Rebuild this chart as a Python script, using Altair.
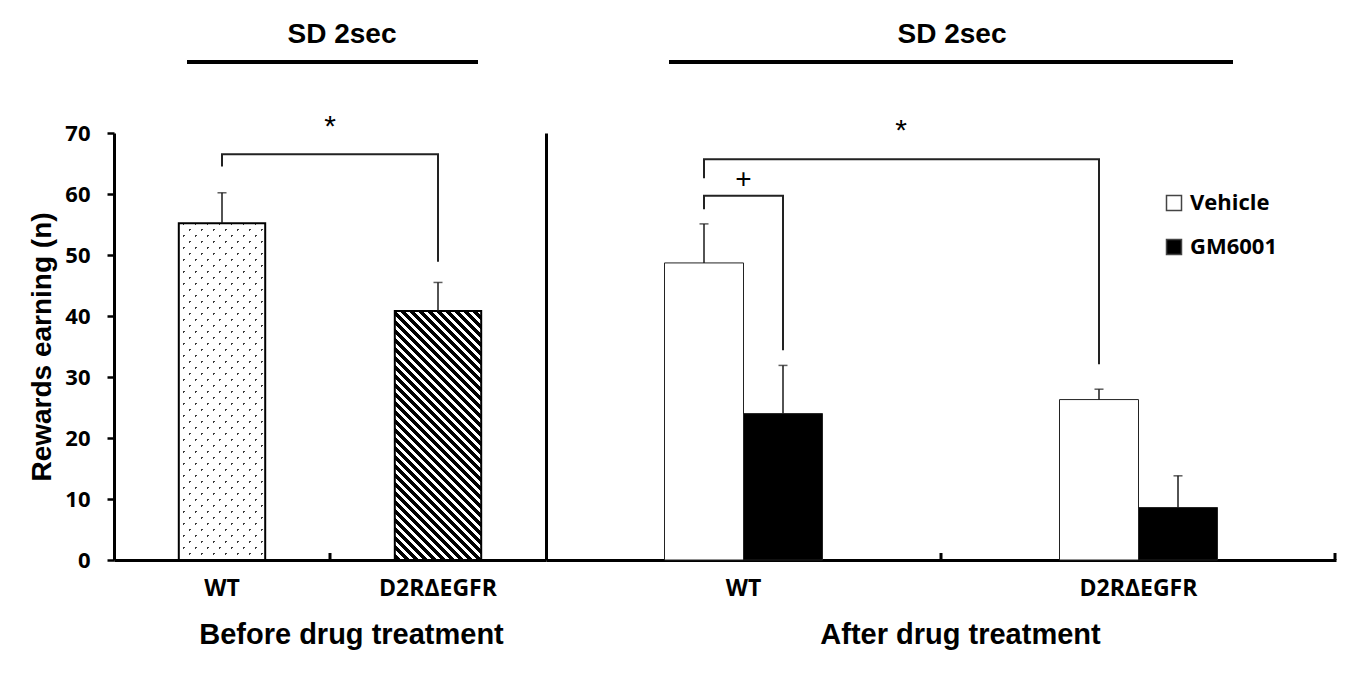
import altair as alt
import pandas as pd

# ---------------- data ----------------
genotype_order = ["WT", "D2RΔEGFR"]
treatment_order = ["Vehicle", "GM6001"]

before_genotypes = ["WT", "D2RΔEGFR"]
before_means = [55.2, 40.8]
before_sem = [5.0, 4.7]

after_genotypes = ["WT", "WT", "D2RΔEGFR", "D2RΔEGFR"]
after_treatments = ["Vehicle", "GM6001", "Vehicle", "GM6001"]
after_means = [48.7, 24.0, 26.3, 8.6]
after_sem = [6.4, 7.9, 1.7, 5.2]

y_ticks = [0, 10, 20, 30, 40, 50, 60, 70]
y_title = "Rewards earning (n)"
panel_headers = ["SD 2sec", "SD 2sec"]
panel_titles = ["Before drug treatment", "After drug treatment"]

# significance brackets (polyline vertices)
before_bracket_genotype = ["WT", "WT", "D2RΔEGFR", "D2RΔEGFR"]
before_bracket_y = [64.5, 66.5, 66.5, 48.9]

after_bracket_id = ["a", "a", "a", "a", "b", "b", "b", "b"]
after_bracket_genotype = ["WT", "WT", "D2RΔEGFR", "D2RΔEGFR", "WT", "WT", "WT", "WT"]
after_bracket_treatment = ["Vehicle", "Vehicle", "Vehicle", "Vehicle",
                           "Vehicle", "Vehicle", "GM6001", "GM6001"]
after_bracket_y = [62.6, 65.7, 65.7, 32.1, 57.5, 59.7, 59.7, 34.4]

sig_labels = ["*", "*", "+"]
sig_y = [71.0, 70.4, 62.3]

# ---------------- layout ----------------
PLOT_H = 427
W_L = 432
W_R = 790
Y_MAX = 70
PAD_IN = 0.6
PAD_OUT = 0.3

step_L = W_L / (2 - PAD_IN + 2 * PAD_OUT)
bw_L = step_L * (1 - PAD_IN)


def stripe_gradient(w, h, direction, period, line_w, line_color, bg_color, phase=0.0):
    s = w + h
    n2 = w * w + h * h
    if direction == "down":   # lines like "\"
        x1, y1 = 0.0, 1.0
        x2, y2 = w * s / n2, 1.0 - h * s / n2
    else:                     # lines like "/"
        x1, y1 = 0.0, 0.0
        x2, y2 = w * s / n2, h * s / n2
    stops = [{"offset": 0.0, "color": bg_color}]
    u = phase
    while u < s:
        a = u / s
        b = min((u + line_w) / s, 1.0)
        stops += [
            {"offset": a, "color": bg_color},
            {"offset": a, "color": line_color},
            {"offset": b, "color": line_color},
            {"offset": b, "color": bg_color},
        ]
        u += period
    stops.append({"offset": 1.0, "color": bg_color})
    return {"gradient": "linear", "x1": x1, "y1": y1, "x2": x2, "y2": y2, "stops": stops}


h_wt = before_means[0] / Y_MAX * PLOT_H
h_d2 = before_means[1] / Y_MAX * PLOT_H
dots_lines = stripe_gradient(bw_L, h_wt, "down", 12, 2.4, "#3a3a3a", "#ffffff", 4)
dots_mask = stripe_gradient(bw_L, h_wt, "up", 12, 2.4, "rgba(255,255,255,0)", "#ffffff", 4)
hatch = stripe_gradient(bw_L, h_d2, "down", 9, 4.6, "#000000", "#ffffff", 2)

df_before = pd.DataFrame({"genotype": before_genotypes, "mean": before_means, "sem": before_sem})
df_before["upper"] = df_before["mean"] + df_before["sem"]
df_after = pd.DataFrame({"genotype": after_genotypes, "treatment": after_treatments,
                         "mean": after_means, "sem": after_sem})
df_after["upper"] = df_after["mean"] + df_after["sem"]

df_bb = pd.DataFrame({"genotype": before_bracket_genotype, "y": before_bracket_y,
                      "seq": list(range(len(before_bracket_y)))})
df_ab = pd.DataFrame({"id": after_bracket_id, "genotype": after_bracket_genotype,
                      "treatment": after_bracket_treatment, "y": after_bracket_y,
                      "seq": list(range(len(after_bracket_y)))})

BOLD = "bold"
SANS = "Liberation Sans"
LAB = "Open Sans"


def x_axis(title, title_x):
    return alt.Axis(title=title, labelAngle=0, ticks=False, tickSize=0,
                    labelFont=LAB, labelFontSize=23, labelFontWeight=BOLD, labelColor="black",
                    labelPadding=17, titleFont=SANS, titleFontSize=29, titleFontWeight=BOLD,
                    titleColor="black", titlePadding=20, titleX=title_x, titleAlign="center",
                    domainWidth=3, domainColor="black", grid=False)


y_axis_left = alt.Axis(values=y_ticks, tickSize=7, tickWidth=2.5, tickColor="black",
                       labelFont=LAB, labelFontSize=22, labelFontWeight=BOLD, labelColor="black",
                       labelPadding=17, title=y_title, titleFont=SANS, titleFontSize=28,
                       titleFontWeight=BOLD, titleColor="black", titlePadding=8,
                       domainWidth=3, domainColor="black", grid=False)
y_axis_right = alt.Axis(labels=False, ticks=False, title=None, domainWidth=3,
                        domainColor="black", grid=False)

y_scale = alt.Scale(domain=[0, Y_MAX], nice=False)

xL = alt.X("genotype:N", scale=alt.Scale(domain=genotype_order, paddingInner=PAD_IN,
                                          paddingOuter=PAD_OUT),
           axis=x_axis(panel_titles[0], 237))
xR = alt.X("genotype:N", scale=alt.Scale(domain=genotype_order, paddingInner=PAD_IN,
                                          paddingOuter=PAD_OUT),
           axis=x_axis(panel_titles[1], 414))
xoff = alt.XOffset("treatment:N", scale=alt.Scale(domain=treatment_order, paddingInner=0,
                                                   paddingOuter=0))


def yL(f):
    return alt.Y(f, type="quantitative", scale=y_scale, axis=y_axis_left)


def yR(f):
    return alt.Y(f, type="quantitative", scale=y_scale, axis=y_axis_right)


# ---------------- left panel ----------------
bL = alt.Chart(df_before)
wt_lines = bL.transform_filter(alt.datum.genotype == "WT").mark_bar(fill=dots_lines).encode(
    x=xL, y=yL("mean"))
wt_mask = bL.transform_filter(alt.datum.genotype == "WT").mark_bar(fill=dots_mask).encode(
    x=xL, y=yL("mean"))
d2_hatch = bL.transform_filter(alt.datum.genotype == "D2RΔEGFR").mark_bar(fill=hatch).encode(
    x=xL, y=yL("mean"))
outline_L = bL.mark_bar(fillOpacity=0, stroke="black", strokeWidth=2).encode(x=xL, y=yL("mean"))
err_L = bL.mark_rule(color="#1a1a1a", strokeWidth=1.5).encode(x=xL, y=yL("mean"), y2="upper:Q")
cap_L = bL.mark_tick(color="#1a1a1a", size=9, thickness=1.5).encode(x=xL, y=yL("upper"))
brk_L = alt.Chart(df_bb).mark_line(color="#222222", strokeWidth=2).encode(
    x=xL, y=yL("y"), order="seq:Q")
star_L = alt.Chart(pd.DataFrame({"label": [sig_labels[0]], "y": [sig_y[0]]})).mark_text(
    font=SANS, fontSize=30, color="black").encode(x=alt.value(W_L / 2), y=yL("y"), text="label:N")
head_L = alt.Chart(pd.DataFrame({"label": [panel_headers[0]]})).mark_text(
    font=SANS, fontSize=28, fontWeight=BOLD, color="black").encode(
    x=alt.value(228), y=alt.value(-98), text="label:N")
headline_L = alt.Chart(pd.DataFrame({"k": [0]})).mark_rule(color="black", strokeWidth=4).encode(
    x=alt.value(73), x2=alt.value(364), y=alt.value(-71))
tick_L = alt.Chart(pd.DataFrame({"k": [0]})).mark_rule(color="black", strokeWidth=3).encode(
    x=alt.value(W_L / 2), y=alt.value(PLOT_H), y2=alt.value(PLOT_H - 7))

left = alt.layer(wt_lines, wt_mask, d2_hatch, outline_L, err_L, cap_L, brk_L, star_L,
                 head_L, headline_L, tick_L).properties(width=W_L, height=PLOT_H)

# ---------------- right panel ----------------
bR = alt.Chart(df_after)
bars_R = bR.mark_bar(stroke="#222222", strokeWidth=1).encode(
    x=xR, xOffset=xoff, y=yR("mean"),
    fill=alt.Fill("treatment:N", scale=alt.Scale(domain=treatment_order, range=["white", "black"]),
                  legend=alt.Legend(title=None, orient="none", legendX=617, legendY=59,
                                    symbolType="square", symbolSize=225,
                                    symbolStrokeColor="#444444", symbolStrokeWidth=1.5,
                                    labelFont=LAB, labelFontSize=22, labelFontWeight=BOLD,
                                    labelColor="black", labelOffset=5, rowPadding=22)))
err_R = bR.mark_rule(color="#1a1a1a", strokeWidth=1.5).encode(
    x=xR, xOffset=xoff, y=yR("mean"), y2="upper:Q")
cap_R = bR.mark_tick(color="#1a1a1a", size=9, thickness=1.5).encode(
    x=xR, xOffset=xoff, y=yR("upper"))
brk_R = alt.Chart(df_ab).mark_line(color="#222222", strokeWidth=2).encode(
    x=xR, xOffset=xoff, y=yR("y"), detail="id:N", order="seq:Q")
star_R = alt.Chart(pd.DataFrame({"label": [sig_labels[1]], "y": [sig_y[1]]})).mark_text(
    font=SANS, fontSize=30, color="black").encode(x=alt.value(355), y=yR("y"), text="label:N")
plus_R = alt.Chart(pd.DataFrame({"genotype": ["WT"], "label": [sig_labels[2]], "y": [sig_y[2]]})).mark_text(
    font=SANS, fontSize=28, color="black").encode(x=xR, y=yR("y"), text="label:N")
head_R = alt.Chart(pd.DataFrame({"label": [panel_headers[1]]})).mark_text(
    font=SANS, fontSize=28, fontWeight=BOLD, color="black").encode(
    x=alt.value(406), y=alt.value(-98), text="label:N")
headline_R = alt.Chart(pd.DataFrame({"k": [0]})).mark_rule(color="black", strokeWidth=4).encode(
    x=alt.value(123), x2=alt.value(687), y=alt.value(-71))
tick_R = alt.Chart(pd.DataFrame({"k": [0]})).mark_rule(color="black", strokeWidth=3).encode(
    x=alt.value(W_R / 2), y=alt.value(PLOT_H), y2=alt.value(PLOT_H - 7))
tick_R2 = alt.Chart(pd.DataFrame({"k": [0]})).mark_rule(color="black", strokeWidth=3).encode(
    x=alt.value(W_R - 1), y=alt.value(PLOT_H), y2=alt.value(PLOT_H - 7))

right = alt.layer(bars_R, err_R, cap_R, brk_R, star_R, plus_R, head_R, headline_R,
                  tick_R, tick_R2).properties(width=W_R, height=PLOT_H)

chart = alt.hconcat(left, right, spacing=0).resolve_scale(fill="independent").properties(
    padding={"left": 20, "top": 13, "right": 5, "bottom": 5}
).configure(background="white").configure_view(stroke=None)

chart.save("out.html", embed_options={"renderer": "svg", "actions": False})
